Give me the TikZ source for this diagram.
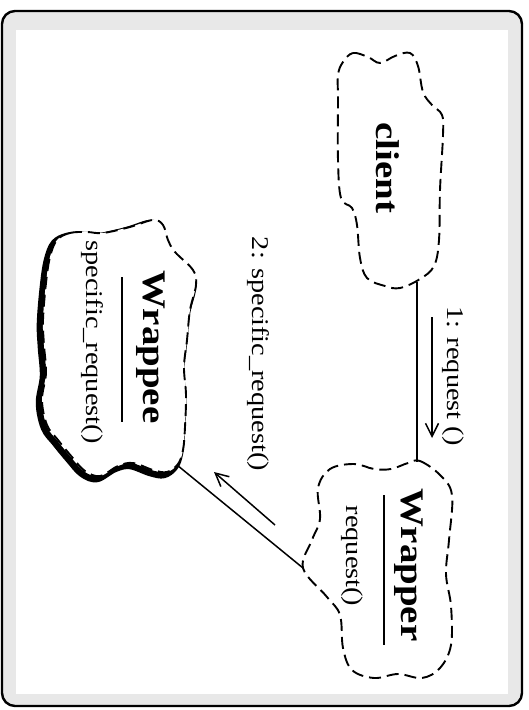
\documentclass[tikz,border=0pt]{standalone}
\usepackage{fontspec}
\setmainfont{Liberation Serif}
\usetikzlibrary{arrows.meta, positioning}
\tikzset{
  objname/.style={font=\fontsize{33}{36}\selectfont\bfseries, yscale=1.18, rotate=-90, inner sep=0pt},
  objop/.style={font=\fontsize{24}{26}\selectfont, yscale=1.18, rotate=-90, inner sep=0pt},
  msglabel/.style={font=\fontsize{24}{26}\selectfont, yscale=1.18, rotate=-90, inner sep=0pt},
  objcloud/.style={dash pattern=on 12pt off 6pt, line width=1.9pt, fill=white},
  objshadow/.style={line width=6.5pt, line join=round},
  link/.style={line width=1.5pt},
  msgarrow/.style={line width=1.5pt, -{Straight Barb[length=13pt, width=13pt]}},
}

\begin{document}
\begin{tikzpicture}[x=1pt, y=-1pt]
  \useasboundingbox (0,0) rectangle (529,710);
  % frame
  \draw[line width=2.4pt, fill=black!9, rounded corners=13pt] (2,11) rectangle (522,706);
  \fill[white] (16,30) rectangle (508,694);

  % client object
  \draw[objcloud] plot[smooth cycle, tension=0.6] coordinates {
    (343,62) (353,53) (368,57) (380,63) (395,56) (410,53) (418,66) (423,92)
    (432,105) (442,115) (443,135) (440,190) (439,240) (434,266) (420,279)
    (400,288) (385,286) (367,278) (360,258) (357,225) (352,208) (341,198)
    (338,160) (338,100) (338,75)};
  \node[objname] (client) at (388,168) {client};

  % Wrapper object
  \draw[objcloud] plot[smooth cycle, tension=0.6] coordinates {
    (408,463) (420,461) (440,475) (452,495) (449,540) (446,574) (451,606)
    (451,645) (440,668) (422,678) (398,674) (374,678) (352,670) (343,648)
    (340,615) (327,597) (303,568) (312,540) (320,519) (318,488) (330,469)
    (354,464) (374,469) (391,469)};
  \node[objname] (wrapper) at (409,565) {Wrapper};
  \draw[link] (384,495) -- (384,645);
  \node[objop] (wrapperop) at (352,556) {request()};

  % Wrappee object, with shadow
  \draw[objshadow, shift={(-3,3)}] plot[smooth cycle, tension=0.6] coordinates {
    (57,240) (70,233) (87,232) (103,233) (130,227) (153,220) (163,225)
    (168,240) (175,252) (193,270) (196,285) (190,310) (187,340) (184,367)
    (186,395) (185,427) (183,450) (178,464) (167,472) (153,470) (133,463)
    (118,466) (100,476) (85,471) (72,457) (58,440) (47,425) (42,400)
    (46,373) (44,345) (43,320) (46,283) (50,257)};
  \draw[objcloud] plot[smooth cycle, tension=0.6] coordinates {
    (57,240) (70,233) (87,232) (103,233) (130,227) (153,220) (163,225)
    (168,240) (175,252) (193,270) (196,285) (190,310) (187,340) (184,367)
    (186,395) (185,427) (183,450) (178,464) (167,472) (153,470) (133,463)
    (118,466) (100,476) (85,471) (72,457) (58,440) (47,425) (42,400)
    (46,373) (44,345) (43,320) (46,283) (50,257)};
  \node[objname] (wrappee) at (151,347) {Wrappee};
  \draw[link] (122,277) -- (122,422);
  \node[objop] (wrappeeop) at (92,342) {specific\_request()};

  % links
  \coordinate (clientS) at (417,282);
  \coordinate (wrapperN) at (417,462);
  \coordinate (wrapperW) at (303,568);
  \coordinate (wrappeeE) at (177,465);
  \draw[link] (clientS) -- (wrapperN);
  \draw[link] (wrapperW) -- (wrappeeE);

  % messages
  \coordinate (m1s) at (432,317);
  \coordinate (m1e) at (432,438);
  \draw[msgarrow] (m1s) -- (m1e);
  \node[msglabel] (msg1) at (453,376) {1: request ()};
  \coordinate (m2s) at (275,525);
  \coordinate (m2e) at (214,472);
  \draw[msgarrow] (m2s) -- (m2e);
  \node[msglabel] (msg2) at (258,354) {2: specific\_request()};
\end{tikzpicture}
\end{document}
